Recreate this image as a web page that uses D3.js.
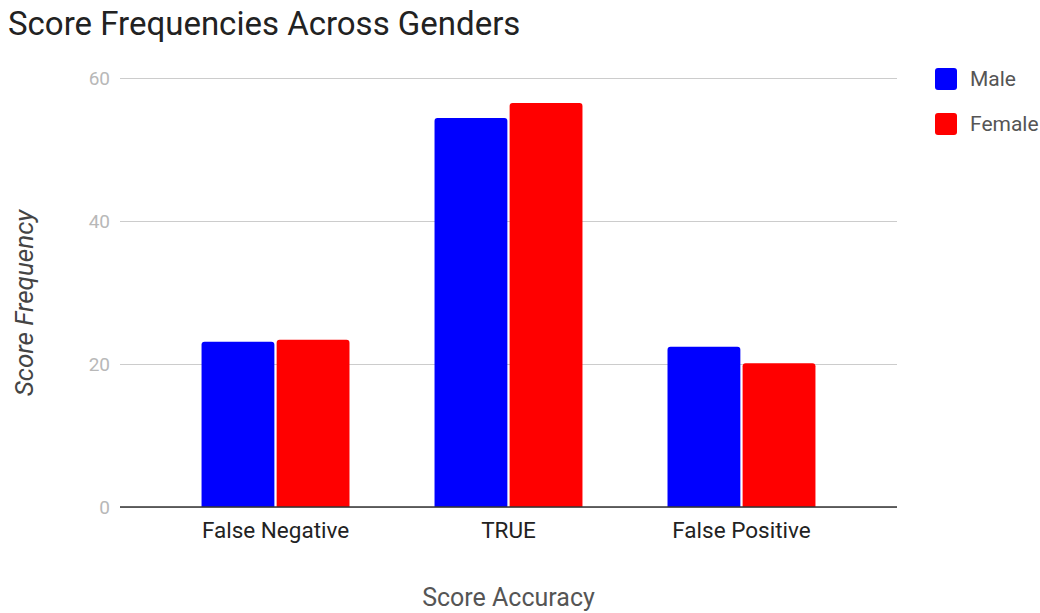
<!DOCTYPE html>
<html>
<head>
<meta charset="utf-8">
<script src="https://cdn.jsdelivr.net/npm/d3@7"></script>
<style>
  body { margin: 0; background: #fff; }
  text { font-family: Roboto, "Noto Sans", sans-serif; }
</style>
</head>
<body>
<div id="chart"></div>
<script>
// score frequency bars, male vs female
var categories = ["False Negative", "TRUE", "False Positive"];
var seriesNames = ["Male", "Female"];
var maleValues = [23.1, 54.4, 22.4];
var femaleValues = [23.4, 56.5, 20.1];
var yTicks = [0, 20, 40, 60];
var colors = ["#0000ff", "#ff0000"];

var W = 1040, H = 613;
var plot = { left: 120, right: 897, top: 78, bottom: 507 };

var svg = d3.select("#chart").append("svg")
    .attr("width", W)
    .attr("height", H);

var x = d3.scaleBand()
    .domain(categories)
    .range([plot.left, plot.right])
    .paddingInner(0.365)
    .paddingOuter(0.35);

var xs = d3.scaleBand()
    .domain(seriesNames)
    .range([0, x.bandwidth()])
    .paddingInner(0.03);

var y = d3.scaleLinear()
    .domain([0, 60])
    .range([plot.bottom, plot.top]);

// grid
var yAxis = d3.axisLeft(y).tickValues(yTicks).tickSize(-(plot.right - plot.left)).tickPadding(10);
var gy = svg.append("g")
    .attr("transform", "translate(" + plot.left + ",0)")
    .call(yAxis);
gy.select(".domain").remove();
gy.selectAll(".tick line").attr("stroke", "#cccccc").attr("stroke-width", 1.2);
gy.selectAll(".tick text")
    .attr("fill", "#b8b8b8")
    .style("font-size", "19px");

// bars
var data = categories.map(function(c, i){
    return { cat: c, vals: [maleValues[i], femaleValues[i]] };
});

var groups = svg.append("g").selectAll("g")
    .data(data)
    .join("g")
    .attr("transform", function(d){ return "translate(" + x(d.cat) + ",0)"; });

groups.selectAll("path")
    .data(function(d){ return d.vals.map(function(v, j){ return { name: seriesNames[j], v: v, j: j }; }); })
    .join("path")
    .attr("fill", function(d){ return colors[d.j]; })
    .attr("d", function(d){
	var x0 = xs(d.name), w = xs.bandwidth(), y0 = y(d.v), yb = y(0), r = 3;
	return "M" + x0 + "," + yb +
	    "V" + (y0 + r) +
	    "Q" + x0 + "," + y0 + " " + (x0 + r) + "," + y0 +
	    "H" + (x0 + w - r) +
	    "Q" + (x0 + w) + "," + y0 + " " + (x0 + w) + "," + (y0 + r) +
	    "V" + yb + "Z";
    });

// baseline + x axis labels
var xAxis = d3.axisBottom(x).tickSize(0).tickPadding(15);
var gx = svg.append("g")
    .attr("transform", "translate(0," + plot.bottom + ")")
    .call(xAxis);
gx.select(".domain").remove();
gx.selectAll(".tick text")
    .attr("fill", "#222")
    .style("font-size", "22.5px");
svg.append("line")
    .attr("x1", plot.left).attr("x2", plot.right)
    .attr("y1", plot.bottom).attr("y2", plot.bottom)
    .attr("stroke", "#333").attr("stroke-width", 1.5);

// title and axis titles
svg.append("text")
    .attr("x", 8).attr("y", 35)
    .attr("fill", "#222")
    .style("font-size", "33px")
    .text("Score Frequencies Across Genders");

svg.append("text")
    .attr("transform", "translate(33," + 303 + ") rotate(-90)")
    .attr("text-anchor", "middle")
    .attr("fill", "#444")
    .style("font-size", "26px")
    .style("font-style", "italic")
    .text("Score Frequency");

svg.append("text")
    .attr("x", (plot.left + plot.right) / 2).attr("y", 606)
    .attr("text-anchor", "middle")
    .attr("fill", "#555")
    .style("font-size", "25px")
    .text("Score Accuracy");

// legend
var legend = svg.append("g").selectAll("g")
    .data(seriesNames)
    .join("g")
    .attr("transform", function(d, i){ return "translate(935," + (68 + i * 45) + ")"; });
legend.append("rect")
    .attr("width", 22).attr("height", 22).attr("rx", 3)
    .attr("fill", function(d, i){ return colors[i]; });
legend.append("text")
    .attr("x", 35).attr("y", 11).attr("dy", "0.35em")
    .attr("fill", "#555")
    .style("font-size", "21px")
    .text(function(d){ return d; });
</script>
</body>
</html>
